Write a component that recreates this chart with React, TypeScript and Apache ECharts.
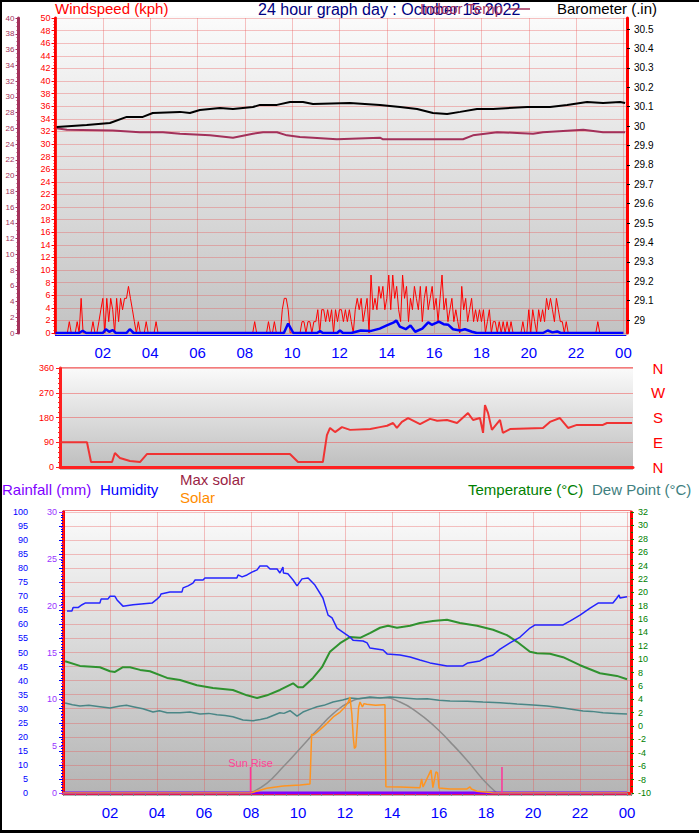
import React, { useEffect, useRef } from "react";
import * as echarts from "echarts";

// ---------- tick labels ----------
const evenHours = [0, 2, 4, 6, 8, 10, 12, 14, 16, 18, 20, 22, 24];
const evenHourLabels = ["02", "04", "06", "08", "10", "12", "14", "16", "18", "20", "22", "00"];
const compassValues = [0, 90, 180, 270, 360];
const compassLabels = ["N", "E", "S", "W", "N"];
const baroTicks = [29, 29.1, 29.2, 29.3, 29.4, 29.5, 29.6, 29.7, 29.8, 29.9, 30, 30.1, 30.2, 30.3, 30.4, 30.5];

// ---------- top panel ----------
// wind gust (kph), one value every 5 minutes, one row per hour
const gustRows = [
  [0, 0, 0, 0, 0, 0, 0, 1.8, 0, 0, 0, 1.8],
  [0, 5.5, 0, 0, 0, 0, 0, 1.8, 0, 0, 1.8, 3.7],
  [5.5, 0, 5.5, 1.8, 5.5, 3.7, 0, 5.5, 1.8, 5.5, 3.7, 5.5],
  [5.5, 7.4, 5.5, 3.7, 1.8, 0, 1.8, 0, 0, 0, 1.8, 0],
  [0, 0, 0, 1.8, 0, 0, 0, 0, 0, 0, 0, 0],
  [0, 0, 0, 0, 0, 0, 0, 0, 0, 0, 0, 0],
  [0, 0, 0, 0, 0, 0, 0, 0, 0, 0, 0, 0],
  [0, 0, 0, 0, 0, 0, 0, 0, 0, 0, 0, 0],
  [0, 0, 0, 0, 0, 1.8, 0, 0, 0, 0, 0, 0],
  [1.8, 0, 0, 1.8, 0, 0, 0, 3.7, 5.5, 5.5, 3.7, 0],
  [0, 0, 0, 0, 0, 1.8, 1.8, 0, 1.8, 1.8, 0, 1.8],
  [1.8, 3.7, 0, 3.7, 3.7, 1.8, 3.7, 1.8, 3.7, 0, 3.7, 1.8],
  [3.7, 3.7, 1.8, 3.7, 1.8, 3.7, 1.8, 0, 3.7, 5.5, 3.7, 5.5],
  [1.8, 3.7, 5.5, 0, 9.2, 3.7, 5.5, 3.7, 7.4, 5.5, 7.4, 3.7],
  [5.5, 9.2, 3.7, 9.2, 5.5, 7.4, 3.7, 1.8, 9.2, 5.5, 7.4, 1.8],
  [5.5, 3.7, 7.4, 5.5, 3.7, 7.4, 1.8, 5.5, 7.4, 3.7, 5.5, 7.4],
  [3.7, 5.5, 1.8, 5.5, 9.2, 3.7, 5.5, 1.8, 3.7, 5.5, 1.8, 3.7],
  [1.8, 0, 7.4, 3.7, 5.5, 1.8, 3.7, 5.5, 1.8, 3.7, 1.8, 3.7],
  [1.8, 3.7, 0, 1.8, 3.7, 0, 1.8, 1.8, 0, 1.8, 0, 1.8],
  [0, 1.8, 0, 1.8, 0, 0, 0, 0, 0, 1.8, 0, 0],
  [3.7, 0, 3.7, 1.8, 0, 3.7, 1.8, 3.7, 1.8, 5.5, 3.7, 5.5],
  [3.7, 1.8, 5.5, 3.7, 1.8, 1.8, 0, 1.8, 0, 0, 0, 0],
  [0, 0, 0, 0, 0, 0, 0, 0, 0, 0, 0, 1.8],
  [0, 0, 0, 0, 0, 0, 0, 0, 0, 0, 0, 0],
];

// average wind speed (kph) [hour, value]
const avgWind = [
  [0, 0], [1.0, 0], [1.15, 0.35], [1.3, 0], [2.0, 0], [2.13, 0.6], [2.27, 0.2], [2.42, 0.45], [2.55, 0],
  [3.0, 0], [3.14, 0.6], [3.3, 0], [9.65, 0], [9.83, 1.5], [10.05, 0], [11.05, 0], [11.18, 0.3], [11.3, 0],
  [11.9, 0], [12.02, 0.4], [12.15, 0], [12.5, 0], [12.9, 0.4], [13.3, 0.3], [13.7, 0.7], [14.0, 1.2],
  [14.3, 1.7], [14.4, 2.0], [14.55, 1.0], [14.8, 0.6], [15.0, 1.2], [15.2, 0.2], [15.5, 0.7], [15.75, 1.7],
  [15.9, 1.3], [16.2, 1.8], [16.4, 1.4], [16.6, 1.3], [16.8, 0.6], [17.1, 0.4], [17.3, 0.6], [17.6, 0.2],
  [17.8, 0], [20.6, 0], [20.8, 0.4], [21.0, 0.1], [21.2, 0.25], [21.35, 0], [24, 0],
];

// barometer (in) [hour, value]
const barometer = [
  [0.05, 29.995], [1.32, 30.005], [2.3, 30.016], [3.01, 30.047], [3.69, 30.047], [4.11, 30.067],
  [5.26, 30.073], [5.68, 30.067], [6.1, 30.083], [6.95, 30.093], [7.5, 30.088], [8.34, 30.098],
  [8.64, 30.109], [9.36, 30.109], [9.91, 30.124], [10.46, 30.124], [10.88, 30.114], [12.44, 30.119],
  [13.71, 30.109], [14.56, 30.098], [15.28, 30.088], [15.95, 30.067], [16.55, 30.062], [17.1, 30.073],
  [17.81, 30.088], [18.49, 30.088], [19.93, 30.098], [20.9, 30.098], [21.62, 30.109], [22.46, 30.124],
  [23.14, 30.119], [23.86, 30.124], [24.07, 30.119],
];

// indoor temperature (°C) [hour, value]
const indoorTemp = [
  [0.05, 26.0], [0.48, 25.8], [2.42, 25.7], [3.56, 25.5], [4.54, 25.5], [5.26, 25.3], [6.53, 25.1],
  [7.5, 24.8], [8.34, 25.3], [8.77, 25.5], [9.36, 25.5], [9.78, 25.1], [10.33, 24.9], [10.88, 24.8],
  [11.89, 24.6], [13.71, 24.8], [13.84, 24.6], [17.22, 24.6], [17.64, 25.1], [18.66, 25.5], [19.51, 25.4],
  [20.18, 25.3], [20.6, 25.5], [22.3, 25.8], [23.14, 25.5], [24.07, 25.5],
];

// ---------- middle panel ----------
// wind direction (degrees) [hour, value]
const windDir = [
  [0, 90], [1.13, 90], [1.3, 18], [2.18, 18], [2.3, 51], [2.51, 33], [2.93, 22], [3.35, 18], [3.64, 47],
  [9.63, 47], [9.97, 18], [11.01, 18], [11.18, 116], [11.31, 142], [11.52, 127], [11.81, 145], [12.15, 135],
  [13.0, 138], [13.4, 145], [13.7, 150], [13.95, 160], [14.11, 142], [14.32, 164], [14.58, 178], [15.08, 156],
  [15.5, 175], [15.8, 168], [16.21, 171], [16.63, 160], [17.09, 196], [17.3, 171], [17.59, 178], [17.72, 124],
  [17.8, 225], [17.93, 196], [18.09, 135], [18.43, 171], [18.55, 124], [18.85, 138], [20.23, 142],
  [20.52, 164], [20.94, 178], [21.28, 142], [21.65, 153], [22.74, 153], [22.91, 160], [23.96, 160],
];

// ---------- bottom panel ----------
// humidity (%) [hour, value]
const humidity = [
  [0.17, 64.8], [0.38, 64.8], [0.43, 66], [0.64, 66], [0.81, 67], [0.94, 67.6], [1.57, 67.6], [1.62, 69],
  [1.91, 69], [2.0, 70], [2.21, 70], [2.3, 68.7], [2.55, 66.5], [2.98, 67], [3.79, 67.6], [4.0, 69],
  [4.13, 70], [4.17, 70.8], [4.55, 71.5], [5.06, 71.5], [5.11, 73], [5.32, 73.7], [5.53, 74.7], [5.62, 75.8],
  [5.96, 75.8], [6.04, 76.5], [7.4, 76.5], [7.45, 77.6], [7.62, 76.9], [7.83, 77.6], [8.04, 78.6],
  [8.26, 79.4], [8.38, 80.8], [8.68, 80.8], [8.81, 79.7], [9.11, 79.7], [9.23, 78.3], [9.36, 80.4],
  [9.38, 78.3], [9.57, 78], [9.79, 75.8], [9.96, 73.7], [10.17, 76.2], [10.43, 76.5], [10.72, 74],
  [11.06, 69.4], [11.28, 63.3], [11.45, 62.3], [11.66, 58.7], [12.09, 56.2], [12.21, 55.5], [12.34, 54.4],
  [12.77, 54.1], [12.94, 53.4], [13.06, 51.6], [13.62, 50.9], [13.79, 49.5], [14.34, 49.1], [14.77, 48.4],
  [15.19, 47.3], [15.62, 46.3], [16.34, 45.2], [17.02, 45.2], [17.23, 46.3], [17.74, 47], [18.04, 48.4],
  [18.3, 49.1], [18.6, 51.2], [19.02, 53.4], [19.45, 55.5], [19.87, 58.7], [20.09, 59.8], [21.28, 59.8],
  [21.57, 61.2], [22.0, 63.3], [22.43, 65.8], [22.77, 67.6], [23.4, 67.6], [23.57, 69.4], [23.66, 70.5],
  [23.7, 69.4], [24.0, 69.8],
];

// temperature (°C) [hour, value]
const temperature = [
  [0.09, 9.7], [0.72, 9.0], [1.57, 8.8], [2.0, 8.2], [2.21, 8.1], [2.55, 8.8], [2.85, 8.8], [3.28, 8.4],
  [3.7, 8.2], [4.43, 7.2], [4.98, 6.9], [5.7, 6.1], [6.38, 5.7], [7.23, 5.4], [7.83, 4.6], [8.26, 4.2],
  [8.68, 4.6], [9.23, 5.4], [9.79, 6.4], [10.0, 5.8], [10.21, 5.8], [10.64, 7.2], [11.02, 8.8], [11.36, 11.1],
  [11.79, 12.4], [12.21, 13.3], [12.64, 13.2], [13.06, 13.9], [13.49, 14.7], [13.83, 15.0], [14.21, 14.7],
  [14.77, 15.0], [15.19, 15.4], [15.74, 15.7], [16.34, 15.9], [16.89, 15.4], [17.62, 15.0], [18.3, 14.4],
  [18.89, 13.6], [19.32, 12.6], [19.87, 11.1], [20.17, 10.9], [20.72, 10.8], [21.28, 10.3], [22.0, 9.1],
  [22.85, 7.9], [23.57, 7.5], [24.0, 7.0],
];

// dew point (°C) [hour, value]
const dewPoint = [
  [0.09, 3.45], [0.4, 3.2], [0.72, 3.0], [1.1, 3.1], [1.57, 2.9], [2.0, 2.7], [2.43, 3.0], [2.7, 3.1],
  [2.98, 2.9], [3.4, 2.6], [3.83, 2.1], [4.1, 2.3], [4.43, 2.0], [4.98, 2.0], [5.4, 2.1], [5.83, 1.8],
  [6.2, 1.9], [6.55, 1.7], [6.9, 1.6], [7.23, 1.4], [7.66, 0.9], [8.09, 0.8], [8.4, 1.0], [8.68, 1.2],
  [9.23, 2.0], [9.4, 1.9], [9.66, 2.3], [9.96, 1.5], [10.21, 2.1], [10.5, 2.5], [10.81, 2.9], [11.1, 3.1],
  [11.49, 3.6], [11.9, 3.9], [12.21, 4.2], [12.6, 4.1], [13.06, 4.35], [13.5, 4.2], [13.91, 4.35],
  [14.5, 4.2], [15.06, 4.05], [15.5, 4.1], [16.0, 3.85], [16.47, 3.75], [17.2, 3.7], [17.87, 3.6],
  [18.6, 3.5], [19.32, 3.3], [20.0, 3.15], [20.6, 3.0], [21.28, 2.7], [22.13, 2.25], [22.5, 2.2],
  [22.98, 2.0], [23.5, 1.9], [24.0, 1.8],
];

// max solar (W/m²) [hour, value]
const maxSolar = [
  [7.96, 0], [8.67, 55], [9.37, 149], [10.09, 254], [10.8, 357], [11.5, 452], [12.21, 518], [12.92, 541],
  [13.63, 543], [14.34, 518], [15.05, 462], [15.76, 386], [16.47, 291], [17.19, 187], [17.89, 74], [18.46, 0],
];

// solar (W/m²) [hour, value]
const solar = [
  [0, 0], [7.98, 0], [8.67, 27], [9.37, 40], [10.09, 45], [10.51, 51], [10.58, 335], [10.65, 329],
  [10.94, 361], [11.22, 395], [11.5, 433], [11.79, 461], [12.0, 490], [12.14, 518], [12.21, 546],
  [12.29, 452], [12.35, 319], [12.4, 254], [12.46, 263], [12.52, 376], [12.58, 490], [12.64, 518],
  [12.74, 490], [12.81, 509], [12.92, 505], [13.3, 500], [13.63, 503], [13.7, 503], [13.74, 36],
  [14.34, 34], [15.19, 30], [15.26, 80], [15.32, 34], [15.66, 130], [15.74, 30], [15.87, 120], [15.94, 115],
  [16.0, 28], [16.47, 23], [17.19, 23], [17.32, 35], [17.38, 23], [17.62, 10], [18.17, 3], [18.3, 0], [24, 0],
];

// rainfall (mm) [hour, value]
const rainfall = [[0, 0], [24, 0]];

// sunrise / sunset hours
const sunEvents = [[7.98, 0], [18.68, 0]];
const sunLabels = ["Sun Rise", ""];

const FONT = '"Liberation Sans", Arial, sans-serif';
const GRID_COLOR = "rgba(235,80,80,0.34)";
const GRID_LINE = { color: GRID_COLOR, type: "solid" as const, width: 1 };

function bg(x: number, y: number, w: number, h: number, bottom: string) {
  return {
    type: "rect",
    z: -10,
    shape: { x, y, width: w, height: h },
    style: {
      fill: new echarts.graphic.LinearGradient(0, 0, 0, 1, [
        { offset: 0, color: "#fbfbfb" },
        { offset: 1, color: bottom },
      ]),
    },
    silent: true,
  };
}

function txt(x: number, y: number, text: string, fill: string, size = 15) {
  return {
    type: "text",
    x,
    y,
    z: 5,
    style: { text, fill, fontSize: size, fontFamily: FONT, align: "left", verticalAlign: "top" },
  };
}

// even hours get a label, everything else (0, the axis end) stays blank
const hourFmt = (v: number) => {
  const r = Math.round(v);
  if (Math.abs(v - r) > 0.01 || r === 0 || r % 2 !== 0) return "";
  return evenHourLabels[r / 2 - 1];
};

// vertical grid lines at even hours, placed through the x scale
const vGrid = (xi: number, yi: number) => ({
  type: "custom",
  xAxisIndex: xi,
  yAxisIndex: yi,
  z: 1,
  silent: true,
  data: evenHours.map((h) => [h, 0]),
  renderItem: (params: any, api: any) => {
    const x = Math.round(api.coord([api.value(0), 0])[0]) + 0.5;
    const cs = params.coordSys;
    return {
      type: "line",
      shape: { x1: x, y1: cs.y, x2: x, y2: cs.y + cs.height },
      style: { stroke: GRID_COLOR, lineWidth: 1 },
    };
  },
});

export default function App() {
  const ref = useRef<HTMLDivElement>(null);

  useEffect(() => {
    if (!ref.current) return;
    const chart = echarts.init(ref.current, undefined, { renderer: "svg" });

    const gust: number[][] = [];
    gustRows.forEach((row, r) => row.forEach((v, i) => gust.push([r + i / 12, v])));

    const lineS = (name: string, data: number[][], xi: number, yi: number, color: string, width: number, extra: any = {}) => ({
      name,
      type: "line",
      xAxisIndex: xi,
      yAxisIndex: yi,
      data,
      showSymbol: false,
      symbol: "none",
      lineStyle: { color, width },
      itemStyle: { color },
      emphasis: { disabled: true },
      ...extra,
    });

    const option: any = {
      animation: false,
      backgroundColor: "#ffffff",
      textStyle: { fontFamily: FONT },
      graphic: [
        bg(55, 16, 572, 320, "#c2c2c2"),
        bg(60, 367, 573, 103, "#bdbdbd"),
        bg(63, 510, 568, 286, "#b4b4b4"),
        { type: "rect", z: 10, shape: { x: 0, y: 0, width: 699, height: 2 }, style: { fill: "#000" } },
        { type: "rect", z: 10, shape: { x: 0, y: 0, width: 2, height: 833 }, style: { fill: "#000" } },
        { type: "rect", z: 10, shape: { x: 0, y: 830, width: 699, height: 3 }, style: { fill: "#000" } },
        { type: "line", z: 4, shape: { x1: 55, y1: 335.5, x2: 626, y2: 335.5 }, style: { stroke: "#0000ff", lineWidth: 1 } },
        { type: "line", z: 1, shape: { x1: 60, y1: 367.5, x2: 633, y2: 367.5 }, style: { stroke: "rgba(240,70,70,0.7)", lineWidth: 1 } },
        { type: "line", z: 1, shape: { x1: 63, y1: 510.5, x2: 631, y2: 510.5 }, style: { stroke: "rgba(240,70,70,0.7)", lineWidth: 1 } },
        txt(55, 1, "Windspeed (kph)", "#ff0000"),
        txt(258, 1, "24 hour graph day : October 15 2022", "#000080", 16),
        txt(420, 1, "Indoor Temp", "#a3305a"),
        { type: "line", z: 5, shape: { x1: 508, y1: 9, x2: 530, y2: 9 }, style: { stroke: "#a3305a", lineWidth: 1.5 } },
        txt(557, 1, "Barometer (.in)", "#000000"),
        txt(2, 482, "Rainfall (mm)", "#8000ff"),
        txt(100, 482, "Humidity", "#0000ff"),
        txt(180, 472, "Max solar", "#9a1f45"),
        txt(180, 490, "Solar", "#ff8c00"),
        txt(468, 482, "Temperature (°C)", "#008000"),
        txt(592, 482, "Dew Point (°C)", "#408080"),
      ],
      grid: [
        { left: 55.5, top: 18, width: 571.5, height: 315 },
        { left: 60, top: 368, width: 573, height: 99 },
        { left: 63, top: 512, width: 568, height: 281 },
      ],
      xAxis: [
        {
          gridIndex: 0, type: "value", min: 0, max: 24.15, interval: 2,
          axisLine: { show: false },
          axisTick: { show: false },
          axisLabel: { formatter: hourFmt, color: "#0000ff", fontSize: 15, margin: 12, showMinLabel: true, showMaxLabel: true },
          splitLine: { show: false },
          minorSplitLine: { show: false },
        },
        {
          gridIndex: 1, type: "value", min: 0, max: 24, interval: 2,
          axisLine: { show: true, lineStyle: { color: "#ff2020", width: 3 } },
          axisTick: { show: false },
          axisLabel: { show: false },
          splitLine: { show: false },
        },
        {
          gridIndex: 2, type: "value", min: 0, max: 24.17, interval: 2,
          axisLine: { show: true, lineStyle: { color: "#ff2020", width: 3 } },
          axisTick: { show: true, length: 3, lineStyle: { color: "#888" } },
          minorTick: { show: true, splitNumber: 4, length: 3, lineStyle: { color: "#888" } },
          axisLabel: { formatter: hourFmt, color: "#0000ff", fontSize: 15, margin: 12, showMinLabel: true, showMaxLabel: true },
          splitLine: { show: false },
          minorSplitLine: { show: false },
        },
      ],
      yAxis: [
        {
          // 0 wind speed
          gridIndex: 0, type: "value", position: "left", min: 0, max: 50, interval: 2,
          axisLine: { show: true, lineStyle: { color: "#ff0000", width: 3 } },
          axisTick: { show: true, length: 4, lineStyle: { color: "#ff0000" } },
          minorTick: { show: true, splitNumber: 4, length: 2, lineStyle: { color: "#ff0000" } },
          axisLabel: { color: "#ff0000", fontSize: 9, margin: 5 },
          splitLine: { show: true, lineStyle: GRID_LINE },
        },
        {
          // 1 indoor temperature
          gridIndex: 0, type: "value", position: "left", offset: 37, min: 0, max: 40, interval: 2,
          axisLine: { show: true, lineStyle: { color: "#a3305a", width: 3 } },
          axisTick: { show: true, length: 3, lineStyle: { color: "#a3305a" } },
          minorTick: { show: true, splitNumber: 4, length: 2, lineStyle: { color: "#a3305a" } },
          axisLabel: { color: "#a3305a", fontSize: 8, margin: 4 },
          splitLine: { show: false },
        },
        {
          // 2 barometer
          gridIndex: 0, type: "value", position: "right", min: 28.933, max: 30.557,
          axisLine: { show: true, lineStyle: { color: "#ff0000", width: 3 } },
          axisTick: { show: true, customValues: baroTicks, length: 3, lineStyle: { color: "#000" } },
          axisLabel: {
            customValues: baroTicks, color: "#000000", fontSize: 10, margin: 7,
            formatter: (v: number) => String(Number(v.toFixed(1))),
          },
          splitLine: { show: false },
        },
        {
          // 3 wind direction
          gridIndex: 1, type: "value", position: "left", min: 0, max: 360, interval: 90,
          axisLine: { show: true, lineStyle: { color: "#ff2020", width: 3 } },
          axisTick: { show: true, length: 4, lineStyle: { color: "#ff2020" } },
          minorTick: { show: true, splitNumber: 5, length: 2, lineStyle: { color: "#ff2020" } },
          axisLabel: { color: "#ff0000", fontSize: 9, margin: 6 },
          splitLine: { show: true, lineStyle: { color: "rgba(240,80,80,0.5)", type: "solid", width: 1 } },
        },
        {
          // 4 compass letters
          gridIndex: 1, type: "value", position: "right", min: 0, max: 360,
          axisLine: { show: false },
          axisTick: { show: false },
          splitLine: { show: false },
          axisLabel: {
            customValues: compassValues,
            formatter: (v: number) => compassLabels[compassValues.indexOf(v)],
            color: "#ff0000", fontSize: 15, align: "center", margin: 25,
          },
        },
        {
          // 5 humidity
          gridIndex: 2, type: "value", position: "left", offset: 31, min: 0, max: 100, interval: 5,
          axisLine: { show: true, lineStyle: { color: "#0000ff", width: 3 } },
          axisTick: { show: true, length: 4, lineStyle: { color: "#0000ff" } },
          minorTick: { show: true, splitNumber: 5, length: 2, lineStyle: { color: "#0000ff" } },
          axisLabel: { color: "#0000ff", fontSize: 9, margin: 4 },
          splitLine: { show: true, lineStyle: GRID_LINE },
        },
        {
          // 6 rainfall
          gridIndex: 2, type: "value", position: "left", offset: 0, min: 0, max: 30, interval: 5,
          axisLine: { show: true, lineStyle: { color: "#ff0000", width: 3 } },
          axisTick: { show: true, length: 4, lineStyle: { color: "#9933ff" } },
          minorTick: { show: true, splitNumber: 3, length: 2, lineStyle: { color: "#9933ff" } },
          axisLabel: { color: "#9933ff", fontSize: 9, margin: 6 },
          splitLine: { show: false },
        },
        {
          // 7 temperature / dew point
          gridIndex: 2, type: "value", position: "right", offset: 0, min: -10, max: 32, interval: 2,
          axisLine: { show: true, lineStyle: { color: "#ff0000", width: 3 } },
          axisTick: { show: true, length: 3, lineStyle: { color: "#008000" } },
          minorTick: { show: true, splitNumber: 2, length: 2, lineStyle: { color: "#008000" } },
          axisLabel: { color: "#008000", fontSize: 9, margin: 7 },
          splitLine: { show: false },
        },
        {
          // 8 solar (hidden)
          gridIndex: 2, type: "value", min: 0, max: 1600, show: false,
          splitLine: { show: false },
        },
      ],
      series: [
        vGrid(0, 0),
        vGrid(2, 5),
        lineS("Indoor Temp", indoorTemp, 0, 1, "#a3305a", 2),
        lineS("Barometer", barometer, 0, 2, "#000000", 2),
        lineS("Wind gust", gust, 0, 0, "#ff0000", 1),
        lineS("Wind avg", avgWind, 0, 0, "#0000ff", 2.5),
        lineS("Wind direction", windDir, 1, 3, "#f03333", 2),
        lineS("Max solar", maxSolar, 2, 8, "#8c8c8c", 1.5, { smooth: true }),
        lineS("Dew Point", dewPoint, 2, 7, "#4a8686", 1.5),
        lineS("Temperature", temperature, 2, 7, "#2f922f", 2),
        lineS("Humidity", humidity, 2, 5, "#2424ff", 1.5),
        lineS("Rainfall", rainfall, 2, 6, "#8000ff", 3),
        lineS("Solar", solar, 2, 8, "#ff9420", 1.5),
        {
          name: "Sun",
          type: "custom",
          xAxisIndex: 2,
          yAxisIndex: 8,
          data: sunEvents,
          z: 4,
          renderItem: (params: any, api: any) => {
            const p = api.coord([api.value(0), 0]);
            const children: any[] = [
              { type: "line", shape: { x1: p[0], y1: p[1], x2: p[0], y2: p[1] - 26 }, style: { stroke: "#ff3399", lineWidth: 1.5 } },
            ];
            const lbl = sunLabels[params.dataIndex];
            if (lbl) {
              children.push({
                type: "text",
                x: p[0],
                y: p[1] - 25,
                style: { text: lbl, fill: "#ff4499", fontSize: 11, fontFamily: FONT, align: "center", verticalAlign: "bottom" },
              });
            }
            return { type: "group", children };
          },
        },
      ],
    };

    chart.setOption(option);
    return () => chart.dispose();
  }, []);

  return (
    <div
      ref={ref}
      style={{ position: "fixed", left: 0, top: 0, width: 699, height: 833, background: "#fff" }}
    />
  );
}
